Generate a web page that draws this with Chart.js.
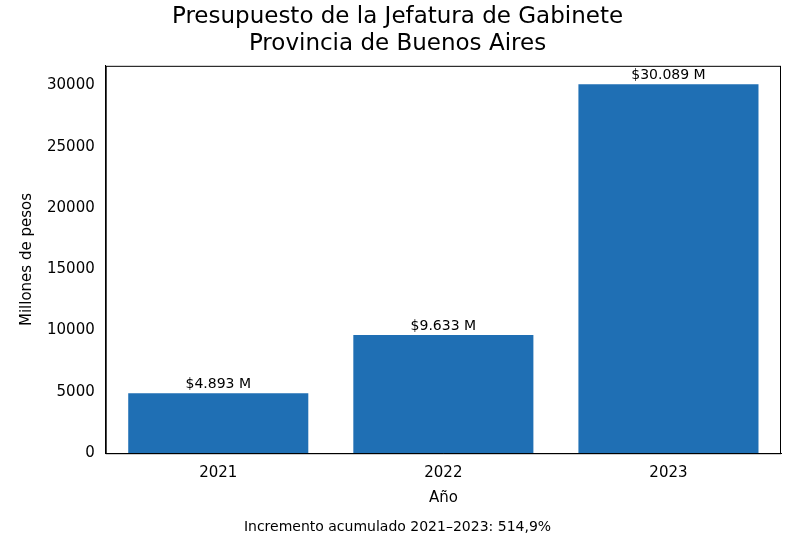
<!DOCTYPE html>
<html><head><meta charset="utf-8">
<script src="https://cdn.jsdelivr.net/npm/chart.js@4/dist/chart.umd.min.js"></script>
<style>body{margin:0;background:#fff}#wrap{width:811px;height:540px}</style>
</head><body><div id="wrap"><canvas id="c"></canvas></div>
<script>
const years = ['2021', '2022', '2023'];
const budget = [4893, 9633, 30089];
const barLabels = ['$4.893 M', '$9.633 M', '$30.089 M'];
const F = 'DejaVu Sans';

const valueLabels = {
  id: 'valueLabels',
  afterDatasetsDraw(chart) {
    const ctx = chart.ctx;
    const meta = chart.getDatasetMeta(0);
    const a = chart.chartArea;
    ctx.save();
    // frame like matplotlib spines
    ctx.strokeStyle = '#000';
    ctx.lineWidth = 1;
    ctx.strokeRect(a.left + 0.5, a.top + 0.5, a.right - a.left - 1, a.bottom - a.top);
    ctx.font = '14px "' + F + '"';
    ctx.fillStyle = '#000';
    ctx.textAlign = 'center';
    ctx.textBaseline = 'bottom';
    meta.data.forEach((bar, i) => ctx.fillText(barLabels[i], bar.x, bar.y - 2));
    ctx.restore();
  }
};

new Chart(document.getElementById('c'), {
  type: 'bar',
  data: {
    labels: years,
    datasets: [{ data: budget, backgroundColor: '#1f6fb4', barPercentage: 0.8, categoryPercentage: 1 }]
  },
  options: {
    responsive: true, maintainAspectRatio: false, animation: false,
    layout: { padding: { left: 14, right: 30, top: 4, bottom: 4 } },
    plugins: {
      legend: { display: false },
      tooltip: { enabled: false },
      title: { display: true, text: ['Presupuesto de la Jefatura de Gabinete', 'Provincia de Buenos Aires'],
        color: '#000', font: { family: F, size: 23, weight: '500', lineHeight: 1.17 }, padding: { top: 0, bottom: 8 } },
      subtitle: { display: true, position: 'bottom', text: 'Incremento acumulado 2021–2023: 514,9%',
        color: '#000', font: { family: F, size: 14 }, padding: { top: 8, bottom: 0 } }
    },
    scales: {
      x: {
        grid: { display: false, drawTicks: true },
        border: { color: '#000' },
        ticks: { color: '#000', font: { family: F, size: 15 } },
        title: { display: true, text: 'Año', color: '#000', font: { family: F, size: 15 }, padding: { top: 4 } }
      },
      y: {
        min: 0, max: 31593,
        grid: { display: false, drawTicks: true },
        border: { color: '#000' },
        afterBuildTicks(axis) { axis.ticks = [0, 5000, 10000, 15000, 20000, 25000, 30000].map(v => ({ value: v })); },
        ticks: { color: '#000', font: { family: F, size: 15 }, callback: v => String(v) },
        title: { display: true, text: 'Millones de pesos', color: '#000', font: { family: F, size: 15 }, padding: { bottom: 8 } }
      }
    }
  },
  plugins: [valueLabels]
});
</script></body></html>
